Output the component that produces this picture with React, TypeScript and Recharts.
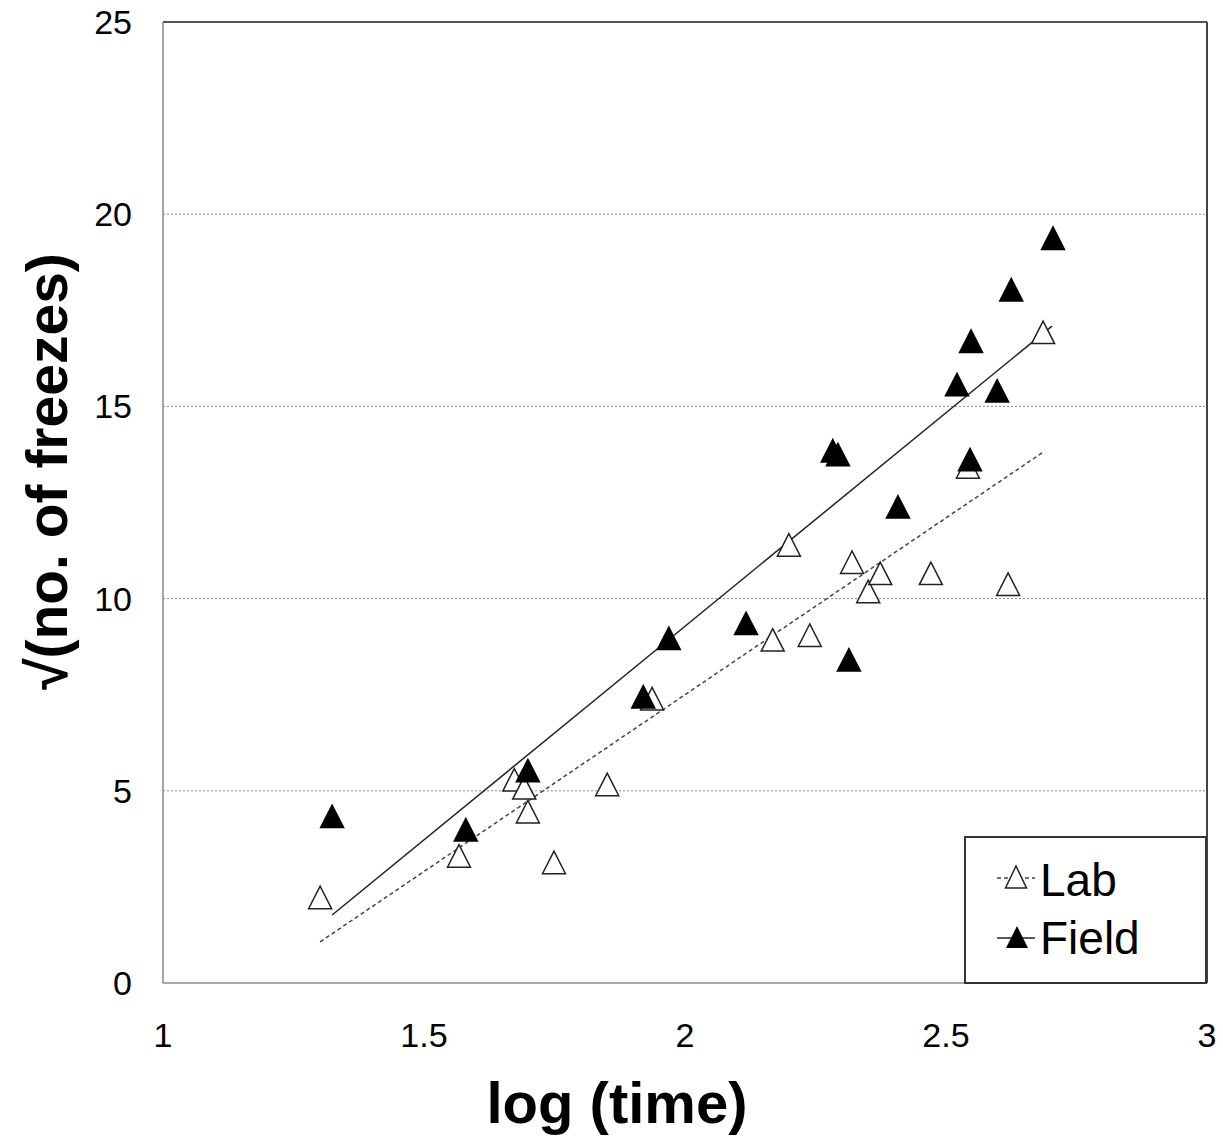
import {
  CartesianGrid,
  ReferenceLine,
  Scatter,
  ScatterChart,
  XAxis,
  YAxis,
} from "recharts";

document.body.style.margin = "0";

const FONT = '"Liberation Sans", Arial, Helvetica, sans-serif';

// values
const labX = [1.301, 1.567, 1.673, 1.692, 1.699, 1.749, 1.851, 1.937, 2.168, 2.199, 2.239, 2.32, 2.351, 2.374, 2.471, 2.542, 2.619, 2.686];
const labY = [2.22, 3.3, 5.28, 5.07, 4.45, 3.13, 5.16, 7.39, 8.92, 11.39, 9.04, 10.94, 10.18, 10.65, 10.65, 13.42, 10.37, 16.92];

const fieldX = [1.324, 1.58, 1.699, 1.92, 1.969, 2.117, 2.283, 2.293, 2.314, 2.408, 2.521, 2.546, 2.548, 2.598, 2.625, 2.705];
const fieldY = [4.33, 3.98, 5.52, 7.44, 8.96, 9.35, 13.84, 13.74, 8.4, 12.38, 15.56, 13.61, 16.69, 15.4, 18.03, 19.37];

// trend line end points
const labTrend = [
  { x: 1.301, y: 1.07 },
  { x: 2.686, y: 13.81 },
];
const fieldTrend = [
  { x: 1.324, y: 1.77 },
  { x: 2.703, y: 17.09 },
];

const xTicks = [1, 1.5, 2, 2.5, 3];
const yTicks = [0, 5, 10, 15, 20, 25];

const labData = labX.map((x, i) => ({ x, y: labY[i] }));
const fieldData = fieldX.map((x, i) => ({ x, y: fieldY[i] }));

const triangle = (filled: boolean) => (props: any) => {
  const { cx, cy } = props;
  const pts = `${cx},${cy - 11.5} ${cx - 11.5},${cy + 11} ${cx + 11.5},${cy + 11}`;
  return (
    <polygon
      points={pts}
      fill={filled ? "#000" : "#fff"}
      stroke={filled ? "#000" : "#222"}
      strokeWidth={1.5}
      strokeLinejoin="miter"
    />
  );
};

const XTitle = (props: any) => {
  const { x, width } = props.viewBox;
  return (
    <text
      x={x + width / 2 - 68}
      y={1123}
      textAnchor="middle"
      fontFamily={FONT}
      fontWeight="bold"
      fontSize={58}
      fill="#000"
    >
      log (time)
    </text>
  );
};

const YTitle = (props: any) => {
  const { y, height } = props.viewBox;
  const cy = y + height / 2 - 31;
  return (
    <text
      x={67}
      y={cy}
      transform={`rotate(-90, 67, ${cy})`}
      textAnchor="middle"
      fontFamily={FONT}
      fontWeight="bold"
      fontSize={57}
      fill="#000"
    >
      √(no. of freezes)
    </text>
  );
};

const LegendBox = () => (
  <div
    style={{
      position: "absolute",
      left: 964,
      top: 836,
      width: 243,
      height: 148,
      boxSizing: "border-box",
      border: "2px solid #333",
      background: "#fff",
      fontFamily: FONT,
      fontSize: 46,
      color: "#000",
    }}
  >
    <svg width={239} height={144} style={{ position: "absolute", left: 0, top: 0 }}>
      <line x1={31} y1={40} x2={69} y2={40} stroke="#444" strokeWidth={1.5} strokeDasharray="4 3" />
      <polygon points="50,28 39.5,50 60.5,50" fill="#fff" stroke="#222" strokeWidth={1.5} />
      <line x1={31} y1={100} x2={69} y2={100} stroke="#222" strokeWidth={1.5} />
      <polygon points="51,88 40,110 62,110" fill="#000" />
    </svg>
    <span style={{ position: "absolute", left: 74, top: 19, lineHeight: "46px" }}>Lab</span>
    <span style={{ position: "absolute", left: 74, top: 77, lineHeight: "46px" }}>Field</span>
  </div>
);

const App = () => {
  return (
    <div style={{ position: "relative", width: 1223, height: 1137, background: "#fff" }}>
      <ScatterChart width={1223} height={1137} margin={{ top: 22, right: 16, left: 0, bottom: 0 }}>
        <CartesianGrid horizontal vertical={false} stroke="#888" strokeDasharray="2 2" />
        <XAxis
          type="number"
          dataKey="x"
          domain={[1, 3]}
          ticks={xTicks}
          height={154}
          tickLine={false}
          tickSize={0}
          tickMargin={40}
          axisLine={{ stroke: "#aaa", strokeWidth: 2 }}
          tick={{ fontSize: 34, fill: "#000", fontFamily: FONT }}
          label={<XTitle />}
        />
        <YAxis
          type="number"
          dataKey="y"
          domain={[0, 25]}
          ticks={yTicks}
          width={163}
          tickLine={false}
          tickSize={0}
          tickMargin={31}
          axisLine={{ stroke: "#888", strokeWidth: 1.5 }}
          tick={{ fontSize: 34, fill: "#000", fontFamily: FONT }}
          label={<YTitle />}
        />
        <ReferenceLine y={25} stroke="#555" strokeWidth={2} />
        <ReferenceLine x={3} stroke="#444" strokeWidth={2} />
        <ReferenceLine
          segment={labTrend}
          stroke="#444"
          strokeWidth={1.5}
          strokeDasharray="4 3"
        />
        <ReferenceLine segment={fieldTrend} stroke="#222" strokeWidth={1.5} />
        <Scatter name="Lab" data={labData} shape={triangle(false)} isAnimationActive={false} />
        <Scatter name="Field" data={fieldData} shape={triangle(true)} isAnimationActive={false} />
      </ScatterChart>
      <LegendBox />
    </div>
  );
};

export default App;
